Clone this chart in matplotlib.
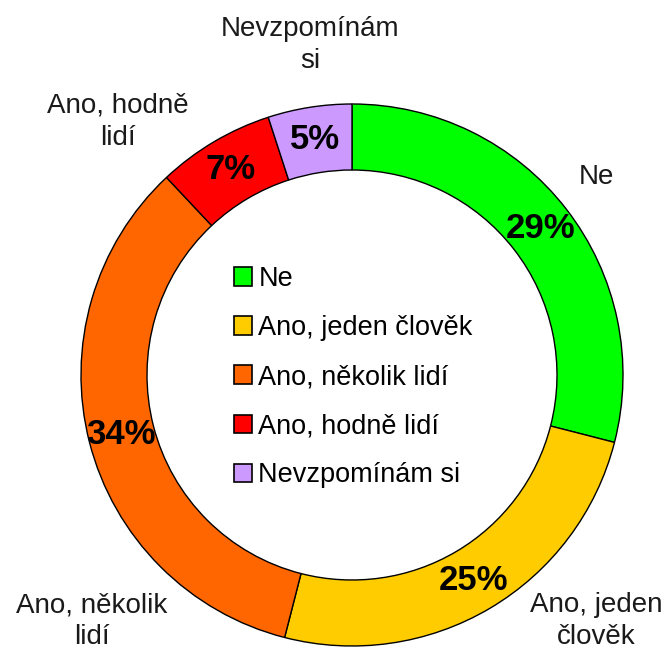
import matplotlib
matplotlib.use("Agg")
import matplotlib.pyplot as plt
from matplotlib.patches import Patch

plt.rcParams['font.family'] = ['Liberation Sans', 'DejaVu Sans']

categories = ["Ne", "Ano, jeden člověk", "Ano, několik lidí", "Ano, hodně lidí", "Nevzpomínám si"]
outer_labels = ["Ne", "Ano, jeden\nčlověk", "Ano, několik\nlidí", "Ano, hodně\nlidí", "Nevzpomínám\nsi"]
values = [29, 25, 34, 7, 5]
colors = ["#00FF00", "#FFCC00", "#FF6600", "#FF0000", "#CC99FF"]

# label anchor points in pixels from top-left of the image
label_pos = [(596, 177), (596, 621), (92, 621), (118, 122), (310, 45)]

W, H = 664, 653
fig = plt.figure(figsize=(W / 100, H / 100), dpi=100)
ax = fig.add_axes([0, 0, 1, 1])

wedges, texts, autotexts = ax.pie(
    values, colors=colors, startangle=90, counterclock=False,
    center=(352, H - 375), radius=271, frame=True,
    autopct=lambda p: f"{p:.0f}%", pctdistance=0.88,
    wedgeprops=dict(width=66, edgecolor="black", linewidth=1.0),
    textprops=dict(fontsize=25, fontweight="bold", color="black"))
ax.set_xlim(0, W)
ax.set_ylim(0, H)
ax.set_aspect("equal")
ax.axis("off")

for lab, (x, y) in zip(outer_labels, label_pos):
    ax.text(x, H - y, lab, ha="center", va="center", fontsize=20,
            color="#1a1a1a", linespacing=1.3)

handles = [Patch(facecolor=c, edgecolor="black", linewidth=1.2) for c in colors]
ax.legend(handles, categories, loc="upper left", bbox_to_anchor=(234 / W, 1 - 266 / H),
          frameon=False, fontsize=19.5, handlelength=0.65, handleheight=0.65,
          handletextpad=0.25, labelspacing=0.85, borderpad=0, borderaxespad=0)

fig.savefig("out.png", dpi=100)
